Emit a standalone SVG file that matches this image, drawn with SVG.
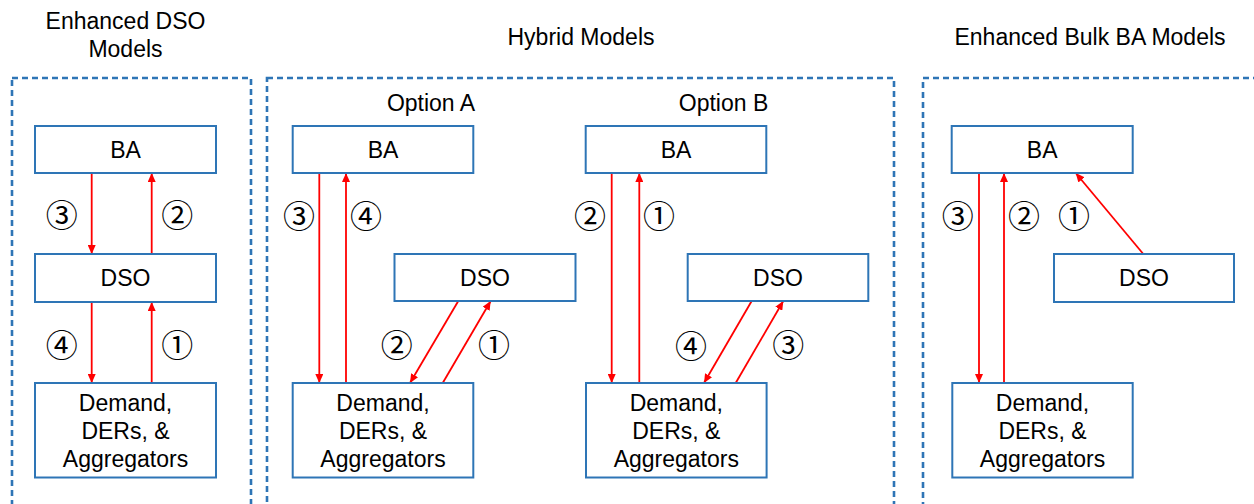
<svg xmlns="http://www.w3.org/2000/svg" width="1254" height="504" viewBox="0 0 1254 504">
<defs>
<marker id="ah" markerUnits="userSpaceOnUse" markerWidth="10" markerHeight="8" refX="9" refY="4" orient="auto">
<path d="M0,0 L9,4 L0,8 Z" fill="#FF0000"/>
</marker>
<style>
.panel{fill:none;stroke:#2E75B6;stroke-width:2.6;stroke-dasharray:6 4}
.box{fill:#FFFFFF;stroke:#2E75B6;stroke-width:2}
.t{font-family:"Liberation Sans",Arial,sans-serif;font-size:23px;fill:#000;text-anchor:middle}
.n{font-family:"Noto Sans CJK JP","DejaVu Sans",sans-serif;font-size:32px;fill:#000;text-anchor:middle;dominant-baseline:central}
.c{stroke:#FF0000;stroke-width:1.8;fill:none;marker-end:url(#ah)}
</style>
</defs>
<rect width="1254" height="504" fill="#FFFFFF"/>
<g id="panels">
<rect class="panel" x="12" y="78" width="239" height="460"/>
<rect class="panel" x="267" y="78" width="627" height="460"/>
<rect class="panel" x="923" y="78" width="360" height="460"/>
</g>
<g id="titles">
<text class="t" x="125.5" y="29">Enhanced DSO</text>
<text class="t" x="125.5" y="57">Models</text>
<text class="t" x="581" y="45">Hybrid Models</text>
<text class="t" x="1090" y="45">Enhanced Bulk BA Models</text>
<text class="t" x="431" y="111">Option A</text>
<text class="t" x="723.5" y="111">Option B</text>
</g>
<g id="connectors">
<line class="c" x1="91.7" y1="173" x2="91.7" y2="254"/>
<line class="c" x1="151.7" y1="254" x2="151.7" y2="173"/>
<line class="c" x1="91.7" y1="302" x2="91.7" y2="383"/>
<line class="c" x1="151.7" y1="383" x2="151.7" y2="302"/>
<line class="c" x1="319.3" y1="173" x2="319.3" y2="383"/>
<line class="c" x1="346" y1="383" x2="346" y2="173"/>
<line class="c" x1="458.3" y1="301" x2="410" y2="383"/>
<line class="c" x1="442.7" y1="383" x2="490.7" y2="301"/>
<line class="c" x1="611.7" y1="173" x2="611.7" y2="383"/>
<line class="c" x1="639.3" y1="383" x2="639.3" y2="173"/>
<line class="c" x1="751.7" y1="301" x2="704" y2="383"/>
<line class="c" x1="735.7" y1="383" x2="783.3" y2="301"/>
<line class="c" x1="979" y1="173" x2="979" y2="383"/>
<line class="c" x1="1004" y1="383" x2="1004" y2="173"/>
<line class="c" x1="1143.3" y1="254" x2="1075.7" y2="173"/>
</g>
<g id="labels">
<text class="n" x="61.7" y="213">③</text>
<text class="n" x="177.3" y="213">②</text>
<text class="n" x="61.7" y="343">④</text>
<text class="n" x="177.3" y="343">①</text>
<text class="n" x="299" y="214">③</text>
<text class="n" x="366" y="214">④</text>
<text class="n" x="396.7" y="343">②</text>
<text class="n" x="494" y="343">①</text>
<text class="n" x="590" y="214">②</text>
<text class="n" x="659" y="214">①</text>
<text class="n" x="691" y="344">④</text>
<text class="n" x="788.3" y="343">③</text>
<text class="n" x="957.7" y="214">③</text>
<text class="n" x="1024" y="214">②</text>
<text class="n" x="1074" y="214">①</text>
</g>
<g id="left-ba"><rect class="box" x="35" y="126" width="181" height="47"/><text class="t" x="125.5" y="158">BA</text></g>
<g id="left-dso"><rect class="box" x="35" y="254" width="181" height="48"/><text class="t" x="125.5" y="286">DSO</text></g>
<g id="left-demand"><rect class="box" x="35" y="383" width="181" height="94.5"/><text class="t" x="125.5" y="411">Demand,</text><text class="t" x="125.5" y="439">DERs, &amp;</text><text class="t" x="125.5" y="467">Aggregators</text></g>
<g id="a-ba"><rect class="box" x="292.7" y="126" width="180.6" height="47"/><text class="t" x="383" y="158">BA</text></g>
<g id="a-dso"><rect class="box" x="394.5" y="254" width="181" height="47"/><text class="t" x="485" y="286">DSO</text></g>
<g id="a-demand"><rect class="box" x="292.7" y="383" width="180.6" height="94.5"/><text class="t" x="383" y="411">Demand,</text><text class="t" x="383" y="439">DERs, &amp;</text><text class="t" x="383" y="467">Aggregators</text></g>
<g id="b-ba"><rect class="box" x="585.7" y="126" width="180.6" height="47"/><text class="t" x="676" y="158">BA</text></g>
<g id="b-dso"><rect class="box" x="687.7" y="254" width="180.6" height="47"/><text class="t" x="778" y="286">DSO</text></g>
<g id="b-demand"><rect class="box" x="586" y="383" width="180.6" height="94.5"/><text class="t" x="676.3" y="411">Demand,</text><text class="t" x="676.3" y="439">DERs, &amp;</text><text class="t" x="676.3" y="467">Aggregators</text></g>
<g id="r-ba"><rect class="box" x="951.7" y="126" width="181" height="47"/><text class="t" x="1042.2" y="158">BA</text></g>
<g id="r-dso"><rect class="box" x="1054" y="254" width="180" height="48"/><text class="t" x="1144" y="286">DSO</text></g>
<g id="r-demand"><rect class="box" x="952.3" y="383" width="180.4" height="94.5"/><text class="t" x="1042.5" y="411">Demand,</text><text class="t" x="1042.5" y="439">DERs, &amp;</text><text class="t" x="1042.5" y="467">Aggregators</text></g>
</svg>
